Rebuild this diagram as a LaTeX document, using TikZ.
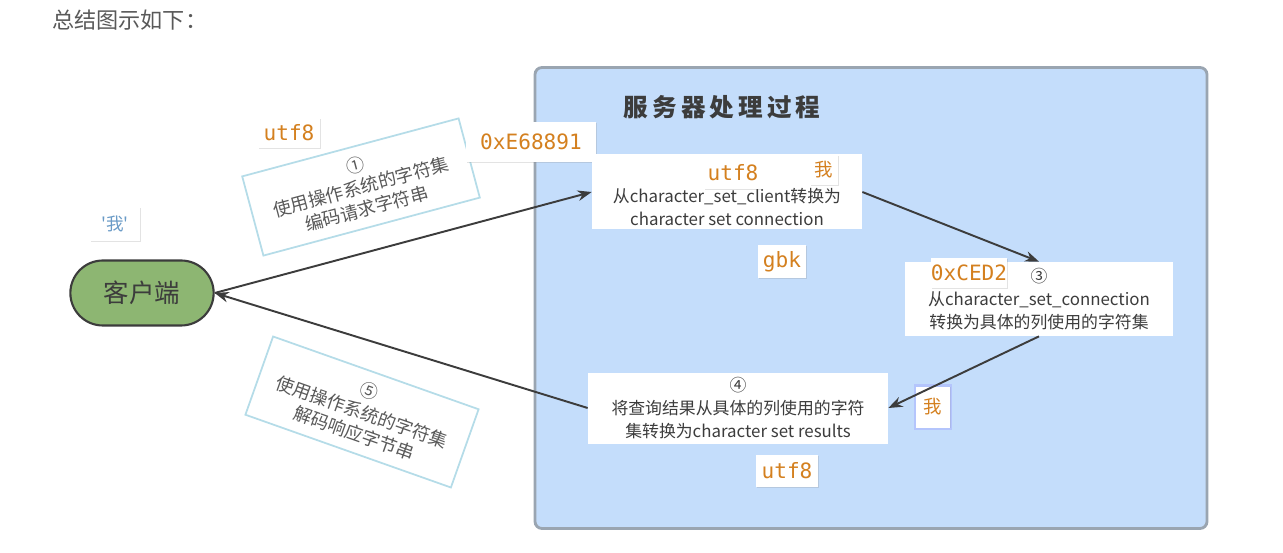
\documentclass[tikz,border=0pt]{standalone}
\usepackage{fontspec}
\setmainfont{Noto Sans CJK SC}
\newfontfamily\codefont{DejaVu Sans Mono}
\usetikzlibrary{shapes.misc,arrows.meta,shadows}

\definecolor{serverblue}{HTML}{C4DDFB}
\definecolor{serverline}{HTML}{9AA5B1}
\definecolor{clientgreen}{HTML}{8DB672}
\definecolor{codeorange}{HTML}{D4801F}
\definecolor{notecyan}{HTML}{B5DCE8}
\definecolor{textgray}{HTML}{3C3C3C}
\definecolor{quoteblue}{HTML}{6A9BC7}
\newcommand\pxu{0.02cm}

\begin{document}
\begin{tikzpicture}[x=0.02cm,y=-0.02cm,
		stepbox/.style={fill=white, inner sep=0pt},
		steptext/.style={align=center, text=textgray, font=\fontsize{9.6}{13.3}\selectfont},
		codelabel/.style={fill=white, inner sep=0pt, text=codeorange, font=\codefont\fontsize{12}{14}\selectfont, drop shadow={shadow xshift=0.4pt, shadow yshift=-0.4pt, opacity=0.22}},
		notebox/.style={draw=notecyan, line width=1pt, fill=white, inner sep=0pt, align=center, text=textgray!85, font=\fontsize{10.3}{12.6}\selectfont},
		flow/.style={draw=textgray, line width=1.1pt, -{Stealth[length=8pt,width=6pt]}}]
		\useasboundingbox (0,0) rectangle (1283,553);
		\node[anchor=west, text=textgray!85, font=\fontsize{12.6}{14}\selectfont] (title) at (46,20) {总结图示如下：};
		
		\node[draw=serverline, line width=1.6pt, fill=serverblue, rounded corners=4pt, minimum width=672*\pxu, minimum height=461*\pxu] (server) at (871,298) {};
		\node[text=textgray, font=\fontsize{14}{16}\bfseries\selectfont] (servertitle) at (722,107) {服\,务\,器\,处\,理\,过\,程};
		
		\node[rounded rectangle, draw=textgray, line width=1.2pt, fill=clientgreen, minimum width=155*\pxu, minimum height=65*\pxu, text=textgray, font=\fontsize{14.5}{16}\selectfont] (client) at (142,293) {客户端};
		\node[stepbox, minimum width=50*\pxu, minimum height=34*\pxu, text=quoteblue, font=\fontsize{10}{11}\selectfont, drop shadow={shadow xshift=0.4pt, shadow yshift=-0.4pt, opacity=0.22}] (charwo) at (115,224) {\textquotesingle 我\textquotesingle};
		
		\node[codelabel, minimum width=62*\pxu, minimum height=30*\pxu] (utfclient) at (289,133) {utf8};
		\node[notebox, rotate=15, minimum width=224*\pxu, minimum height=82*\pxu] (encnote) at (361,187) {①\\使用操作系统的字符集\\编码请求字符串};
		\node[codelabel, minimum width=130*\pxu, minimum height=40*\pxu] (hexutf) at (531,142) {0xE68891};
		
		\node[stepbox, minimum width=270*\pxu, minimum height=75*\pxu] (clientconv) at (727,192) {};
		\node[steptext] (clientconvtext) at (727,207) {从character\_set\_client转换为\\character set connection};
		\node[codelabel, minimum width=57*\pxu, minimum height=33*\pxu] (utfconv) at (733,173) {utf8};
		\node[codelabel, minimum width=28*\pxu, minimum height=30*\pxu, font=\fontsize{10.5}{12}\selectfont] (woconv) at (824,170) {我};
		\node[codelabel, minimum width=48*\pxu, minimum height=33*\pxu] (gbkconv) at (782,262) {gbk};
		
		\node[stepbox, steptext, minimum width=268*\pxu, minimum height=74*\pxu] (colconv) at (1039,299) {③\\从character\_set\_connection\\转换为具体的列使用的字符集};
		\node[codelabel, minimum width=74*\pxu, minimum height=30*\pxu] (hexgbk) at (969,273) {0xCED2};
		
		\node[stepbox, steptext, minimum width=300*\pxu, minimum height=71*\pxu] (resconv) at (738,408) {④\\将查询结果从具体的列使用的字符\\集转换为character set results};
		\node[codelabel, minimum width=62*\pxu, minimum height=32*\pxu] (utfres) at (787,471) {utf8};
		\node[codelabel, minimum width=34*\pxu, minimum height=41*\pxu, font=\fontsize{10.5}{12}\selectfont, drop shadow={shadow xshift=0pt, shadow yshift=0pt, shadow scale=1.12, opacity=0.35, fill=blue!40}] (wocol) at (933,407) {我};
		
		\node[notebox, rotate=-19.5, minimum width=218*\pxu, minimum height=83*\pxu] (decnote) at (362,412) {⑤\\使用操作系统的字符集\\解码响应字节串};
		
		\draw[flow] (client.east) -- (clientconv.west);
		\draw[flow] (clientconv.east) -- (colconv.north);
		\draw[flow] (colconv.south) -- (resconv.east);
		\draw[flow] (resconv.west) -- (client.east);
	\end{tikzpicture}
\end{document}
